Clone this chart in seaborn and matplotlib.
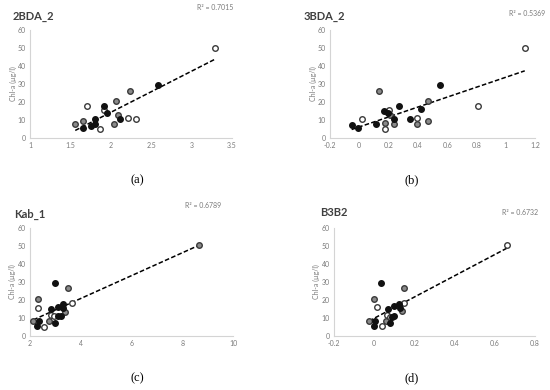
import matplotlib
matplotlib.use("Agg")
import matplotlib.pyplot as plt
import seaborn as sns
import pandas as pd

# panel (a) 2BDA_2
xa = [3.29, 2.58, 2.24, 2.06, 1.71, 1.92, 1.91, 1.95, 2.09, 2.11, 2.21, 2.31, 1.56, 1.65, 1.80, 1.80, 1.75, 1.65, 1.87, 2.04]
ya = [50.2, 29.2, 26.2, 20.6, 17.8, 17.6, 15.4, 14.1, 13.0, 10.4, 11.0, 10.6, 8.0, 9.5, 10.8, 7.6, 6.9, 5.4, 4.8, 7.6]
ka = ['o', 'k', 'g', 'g', 'o', 'k', 'o', 'k', 'g', 'k', 'o', 'o', 'g', 'g', 'k', 'k', 'k', 'k', 'o', 'g']

# panel (b) 3BDA_2
xb = [1.13, 0.55, 0.137, 0.467, 0.808, 0.271, 0.424, 0.20, 0.171, 0.194, 0.212, 0.021, 0.239, 0.344, 0.396, 0.471, 0.175, -0.052, 0.116, 0.239, 0.394, -0.011, 0.178]
yb = [50.2, 29.2, 26.2, 20.6, 17.8, 17.6, 16.0, 15.8, 15.2, 13.9, 12.8, 10.6, 10.6, 10.8, 11.1, 9.5, 8.5, 7.1, 7.6, 7.6, 7.8, 5.4, 4.8]
kb = ['o', 'k', 'g', 'g', 'o', 'k', 'k', 'o', 'k', 'k', 'g', 'o', 'k', 'k', 'o', 'g', 'g', 'k', 'k', 'g', 'g', 'k', 'o']

# panel (c) Kab_1
xc = [8.66, 2.98, 3.48, 2.33, 3.65, 3.31, 2.33, 3.11, 3.32, 2.83, 3.39, 3.11, 3.22, 2.81, 2.96, 2.13, 2.76, 2.35, 3.00, 2.26, 2.54]
yc = [50.4, 29.4, 26.7, 20.7, 18.3, 18.0, 15.7, 16.1, 15.7, 15.2, 13.3, 10.9, 11.1, 11.8, 10.9, 8.1, 8.1, 8.3, 7.4, 5.6, 5.0]
kc = ['g', 'k', 'g', 'g', 'o', 'k', 'o', 'k', 'k', 'k', 'g', 'k', 'k', 'o', 'o', 'g', 'g', 'k', 'k', 'k', 'o']

# panel (d) B3B2
xd = [0.659, 0.033, 0.147, 0.001, 0.016, 0.069, 0.097, 0.124, 0.126, 0.146, 0.139, 0.10, 0.089, 0.066, 0.079, -0.026, 0.006, 0.057, 0.079, -0.002, 0.039]
yd = [50.4, 29.4, 26.7, 20.7, 16.1, 15.2, 16.5, 18.0, 15.7, 18.3, 13.7, 11.1, 10.7, 11.5, 10.6, 8.1, 8.3, 8.3, 7.4, 5.6, 5.4]
kd = ['o', 'k', 'g', 'g', 'o', 'k', 'k', 'k', 'k', 'o', 'g', 'k', 'k', 'o', 'o', 'g', 'k', 'g', 'k', 'k', 'o']

titles = ['2BDA_2', '3BDA_2', 'Kab_1', 'B3B2']
r2_labels = ['R² = 0.7015', 'R² = 0.5369', 'R² = 0.6789', 'R² = 0.6732']
sub_labels = ['(a)', '(b)', '(c)', '(d)']
xlims = [(1, 3.5), (-0.2, 1.2), (2, 10), (-0.2, 0.8)]
xticks = [[1, 1.5, 2, 2.5, 3, 3.5], [-0.2, 0, 0.2, 0.4, 0.6, 0.8, 1, 1.2],
          [2, 4, 6, 8, 10], [-0.2, 0, 0.2, 0.4, 0.6, 0.8]]
xticklabels = [['1', '1.5', '2', '2.5', '3', '3.5'],
               ['-0.2', '0', '0.2', '0.4', '0.6', '0.8', '1', '1.2'],
               ['2', '4', '6', '8', '10'],
               ['-0.2', '0', '0.2', '0.4', '0.6', '0.8']]

sns.set_style('white')
plt.rcParams['font.family'] = ['Lato', 'DejaVu Sans']

W, H = 550, 390
fig = plt.figure(figsize=(5.5, 3.9), dpi=100)

# axes boxes in pixels: left, top, right, bottom
boxes = [(30, 30, 232, 138), (330, 30, 535, 138), (30, 228, 233, 336), (334, 228, 535, 336)]
title_pos = [(13, 16), (304, 16), (14, 214), (320, 213)]
r2_pos = [(233, 7), (545, 14), (221, 205), (538, 213)]
sub_pos = [(137, 180), (412, 180), (137, 378), (412, 378)]
ylab_x = [13, 313, 12, 316]

face = {'k': '#111111', 'g': '#8a8a8a', 'o': 'white'}
edge = {'k': '#111111', 'g': '#3a3a3a', 'o': '#3a3a3a'}

panels = [(xa, ya, ka), (xb, yb, kb), (xc, yc, kc), (xd, yd, kd)]
for i, (xs, ys, ks) in enumerate(panels):
    l, t, r, b = boxes[i]
    ax = fig.add_axes([l / W, (H - b) / H, (r - l) / W, (b - t) / H])
    df = pd.DataFrame({'x': xs, 'y': ys, 'kind': ks})
    sns.regplot(data=df, x='x', y='y', scatter=False, ci=None, ax=ax,
                line_kws=dict(color='black', lw=1.1, ls=(0, (3, 1.5))))
    for k in ['g', 'o', 'k']:
        sub = df[df['kind'] == k]
        sns.scatterplot(data=sub, x='x', y='y', ax=ax, s=16, color=face[k],
                        edgecolor=edge[k], linewidth=1.0, zorder=3)
    ax.set_xlim(*xlims[i])
    ax.set_ylim(0, 60)
    ax.set_xticks(xticks[i])
    ax.set_xticklabels(xticklabels[i])
    ax.set_yticks([0, 10, 20, 30, 40, 50, 60])
    ax.tick_params(length=0, labelsize=5, colors='#7a7a7a', pad=3)
    ax.set_xlabel('')
    ax.set_ylabel('')
    sns.despine(ax=ax)
    for s in ['left', 'bottom']:
        ax.spines[s].set_color('#d4d4d4')
        ax.spines[s].set_linewidth(0.8)

    tx, ty = title_pos[i]
    fig.text(tx / W, 1 - ty / H, titles[i], fontsize=8, fontweight='bold',
             color='#404040', ha='left', va='center')
    rx, ry = r2_pos[i]
    fig.text(rx / W, 1 - ry / H, r2_labels[i], fontsize=5, color='#7a7a7a',
             ha='right', va='center')
    fig.text(ylab_x[i] / W, 1 - ((t + b) / 2) / H, 'Chl-a (µg/l)', fontsize=5,
             color='#7a7a7a', rotation=90, ha='center', va='center')
    sx, sy = sub_pos[i]
    fig.text(sx / W, 1 - sy / H, sub_labels[i], fontsize=9, family='Liberation Serif',
             color='black', ha='center', va='center')

fig.savefig('out.png', dpi=100)
